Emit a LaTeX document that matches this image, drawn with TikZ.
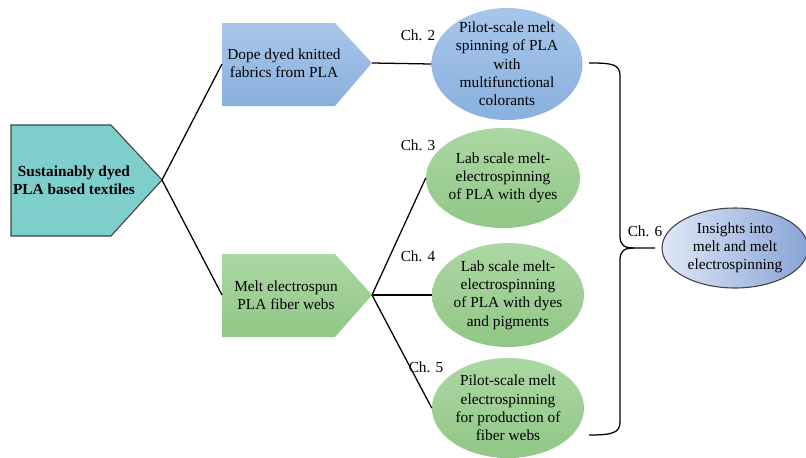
\documentclass[tikz,border=0pt]{standalone}
\usepackage{fontspec}
\setmainfont{Liberation Serif}
\usetikzlibrary{shapes.geometric}
\definecolor{tealfill}{RGB}{126,206,204}
\definecolor{edgegray}{RGB}{64,64,64}
\definecolor{bluetop}{RGB}{168,198,234}
\definecolor{bluebot}{RGB}{137,176,222}
\definecolor{greentop}{RGB}{172,215,163}
\definecolor{greenbot}{RGB}{145,199,135}
\definecolor{insleft}{RGB}{222,231,246}
\definecolor{insright}{RGB}{136,164,214}
\tikzset{
  txt/.style={align=center, font=\fontsize{11.5}{13.7}\selectfont, text=black, inner sep=0pt},
  bluebox/.style={top color=bluetop, bottom color=bluebot, draw=none},
  greenbox/.style={top color=greentop, bottom color=greenbot, draw=none},
  blueell/.style={ellipse, top color=bluetop, bottom color=bluebot, draw=none, inner sep=0pt},
  greenell/.style={ellipse, top color=greentop, bottom color=greenbot, draw=none, inner sep=0pt},
  conn/.style={draw=black, line width=0.95pt},
  chlabel/.style={font=\fontsize{11.5}{13}\selectfont, inner sep=0pt}
}
\begin{document}
\begin{tikzpicture}[x=0.75pt, y=-0.75pt]
\useasboundingbox (0,0) rectangle (806,457);
% left pentagon
\fill[tealfill] (11,125) -- (111,125) -- (162,180) -- (111,236) -- (11,236) -- cycle;
\draw[edgegray, line width=0.8pt] (11,125) -- (111,125) -- (162,180) -- (111,236) -- (11,236) -- cycle;
\coordinate (roottip) at (162,180);
\node[txt, font=\fontsize{11.5}{13.7}\selectfont\bfseries] (root) at (74,180) {Sustainably dyed\\PLA based textiles};
% blue pentagon
\path[bluebox] (222,23) -- (335,23) -- (372,63) -- (335,106) -- (222,106) -- cycle;
\coordinate (dopeleft) at (222,64);
\coordinate (dopetip) at (372,63);
\node[txt] (dope) at (284,63) {Dope dyed knitted\\fabrics from PLA};
% green pentagon
\path[greenbox] (222,254) -- (335,254) -- (372,295) -- (335,337) -- (222,337) -- cycle;
\coordinate (meltleft) at (222,295);
\coordinate (melttip) at (372,295);
\node[txt] (melt) at (286,295) {Melt electrospun\\PLA fiber webs};
% ellipses
\node[blueell, minimum width=151*0.75pt, minimum height=112*0.75pt] (e1) at (507,64) {};
\node[txt] (t1) at (507,64) {Pilot-scale melt\\spinning of PLA\\with\\multifunctional\\colorants};
\node[greenell, minimum width=154*0.75pt, minimum height=100*0.75pt] (e2) at (503,178) {};
\node[txt] (t2) at (503,178) {Lab scale melt-\\electrospinning\\of PLA with dyes};
\node[greenell, minimum width=152*0.75pt, minimum height=104*0.75pt] (e3) at (508,295) {};
\node[txt] (t3) at (508,295) {Lab scale melt-\\electrospinning\\of PLA with dyes\\and pigments};
\node[greenell, minimum width=152*0.75pt, minimum height=100*0.75pt] (e4) at (508,408) {};
\node[txt] (t4) at (508,408) {Pilot-scale melt\\electrospinning\\for production of\\fiber webs};
\node[ellipse, left color=insleft, right color=insright, draw=edgegray, line width=0.8pt, minimum width=146*0.75pt, minimum height=80*0.75pt, inner sep=0pt] (e5) at (735,248) {};
\node[txt] (t5) at (735,248) {Insights into\\melt and melt\\electrospinning};
% connectors
\draw[conn] (roottip) -- (dopeleft);
\draw[conn] (roottip) -- (meltleft);
\draw[conn] (dopetip) -- (e1.west);
\draw[conn] (melttip) -- (e2.west);
\draw[conn] (melttip) -- (e3.west);
\draw[conn] (melttip) -- (e4.west);
% chapter labels
\node[chlabel] (c2) at (418,35) {Ch. 2};
\node[chlabel] (c3) at (418,145) {Ch. 3};
\node[chlabel] (c4) at (418,256) {Ch. 4};
\node[chlabel] (c5) at (426,367) {Ch. 5};
\node[chlabel] (c6) at (645,231) {Ch. 6};
% brace
\coordinate (bracetop) at (589,63);
\coordinate (bracebot) at (589,435);
\coordinate (bracetip) at (655,248);
\draw[conn] (bracetop) .. controls (612,63) and (620,64) .. (620,76) -- (620,236)
  .. controls (620,245) and (624,248) .. (634,248) -- (bracetip);
\draw[conn] (634,248) .. controls (624,248) and (620,251) .. (620,260) -- (620,422)
  .. controls (620,433) and (612,435) .. (bracebot);
\end{tikzpicture}
\end{document}
